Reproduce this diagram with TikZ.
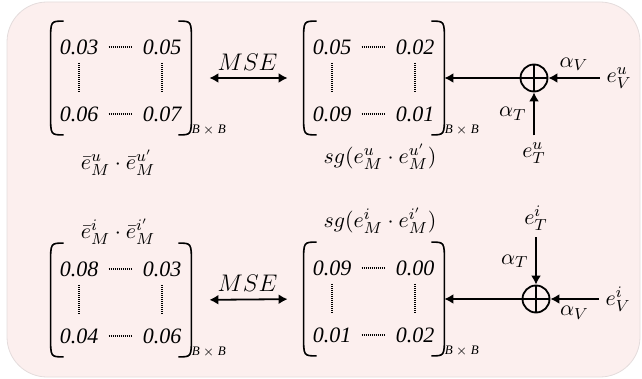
\documentclass[tikz,border=0pt]{standalone}
\usepackage{fontspec}
\setmainfont{Liberation Serif}
\newfontfamily\entryfont{Liberation Serif}
\usetikzlibrary{arrows.meta}
\definecolor{panelpink}{RGB}{252,239,238}
\definecolor{panelline}{RGB}{228,220,220}
\tikzstyle{panel} = [fill=panelpink, draw=panelline, line width=0.4pt, rounded corners=20pt]
\tikzstyle{mat} = [rectangle, inner sep=0pt, minimum width=70pt, minimum height=56.5pt]
\tikzstyle{entry} = [inner sep=0pt, font=\entryfont\fontsize{11}{13}\selectfont\itshape]
\tikzstyle{paren} = [line width=0.8pt]
\tikzstyle{dots} = [line width=0.7pt, dash pattern=on 0.45pt off 0.55pt]
\tikzstyle{bxb} = [inner sep=0pt, font=\entryfont\fontsize{6.5}{7}\selectfont]
\tikzstyle{plus} = [circle, draw, line width=0.9pt, minimum size=13.5pt, inner sep=0pt,
    path picture={\draw[line width=0.9pt] (path picture bounding box.north) -- (path picture bounding box.south)
    (path picture bounding box.west) -- (path picture bounding box.east);}]
\tikzstyle{arrow} = [line width=0.9pt, -{Latex[length=4.5pt,width=5pt]}]
\tikzstyle{twoway} = [line width=0.9pt, {Latex[length=4.5pt,width=5pt]}-{Latex[length=4.5pt,width=5pt]}]

\begin{document}
\begin{tikzpicture}[x=0.5pt, y=-0.5pt, font=\fontsize{11}{13}\selectfont]

    \useasboundingbox (0,0) rectangle (642,379);
    \draw[panel] (7,2) rectangle (640,377);

    % Matrices
    \foreach \m/\x/\y/\a/\b/\c/\d in {mu/121/78/0.03/0.05/0.06/0.07, su/374/78/0.05/0.02/0.09/0.01,
                                      mi/121/300/0.08/0.03/0.04/0.06, si/374/299/0.09/0.00/0.01/0.02} {
        \node[mat] (\m) at (\x,\y) {};
        \node[entry] (\m a) at (\x-42,\y-31) {\a};
        \node[entry] (\m b) at (\x+41,\y-31) {\b};
        \node[entry] (\m c) at (\x-42,\y+36) {\c};
        \node[entry] (\m d) at (\x+41,\y+36) {\d};
        \draw[dots, shorten <=5pt, shorten >=5pt] (\m a.east) -- (\m b.west);
        \draw[dots, shorten <=5pt, shorten >=5pt] (\m c.east) -- (\m d.west);
        \draw[dots, shorten <=4pt, shorten >=7.5pt] (\m a.south) -- (\m c.north);
        \draw[dots, shorten <=4pt, shorten >=7.5pt] (\m b.south) -- (\m d.north);
        \draw[paren] ([xshift=6.5pt]\m.north west) .. controls (\m.north west) .. ([yshift=-10pt]\m.north west)
            -- ([yshift=10pt]\m.south west) .. controls (\m.south west) .. ([xshift=6.5pt]\m.south west);
        \draw[paren] ([xshift=-6.5pt]\m.north east) .. controls (\m.north east) .. ([yshift=-10pt]\m.north east)
            -- ([yshift=10pt]\m.south east) .. controls (\m.south east) .. ([xshift=-6.5pt]\m.south east);
        \node[bxb, anchor=west] (\m size) at ([yshift=2.5pt]\m.south east) {\textit{B} $\times$ \textit{B}};
    }

    % Labels
    \node (mulabel) at (118,163) {$\bar{e}^{u}_{M}\cdot\bar{e}^{u'}_{M}$};
    \node (sulabel) at (380,157) {$sg(e^{u}_{M}\cdot e^{u'}_{M})$};
    \node (milabel) at (118,232) {$\bar{e}^{i}_{M}\cdot\bar{e}^{i'}_{M}$};
    \node (silabel) at (380,221) {$sg(e^{i}_{M}\cdot e^{i'}_{M})$};

    % Fusion
    \node[plus] (addu) at (534,78) {};
    \node (evu) at (619,78) {$e^{u}_{V}$};
    \node (etu) at (534,153) {$e^{u}_{T}$};
    \node[plus] (addi) at (536,299) {};
    \node (evi) at (618,299) {$e^{i}_{V}$};
    \node (eti) at (536,218) {$e^{i}_{T}$};

    % Arrows
    \draw[twoway, shorten <=9pt, shorten >=8pt] (mu.east) -- node[above, font=\fontsize{12}{14}\selectfont] {$MSE$} (su.west);
    \draw[twoway, shorten <=9pt, shorten >=8pt] (mi.east) -- node[above, font=\fontsize{12}{14}\selectfont] {$MSE$} (si.west);
    \draw[arrow] (evu) -- node[above] {$\alpha_V$} (addu);
    \draw[arrow] (etu) -- node[left] {$\alpha_T$} (addu);
    \draw[arrow] (addu) -- (su.east);
    \draw[arrow] (evi) -- node[below] {$\alpha_V$} (addi);
    \draw[arrow] (eti) -- node[left] {$\alpha_T$} (addi);
    \draw[arrow] (addi) -- (si.east);

\end{tikzpicture}
\end{document}
